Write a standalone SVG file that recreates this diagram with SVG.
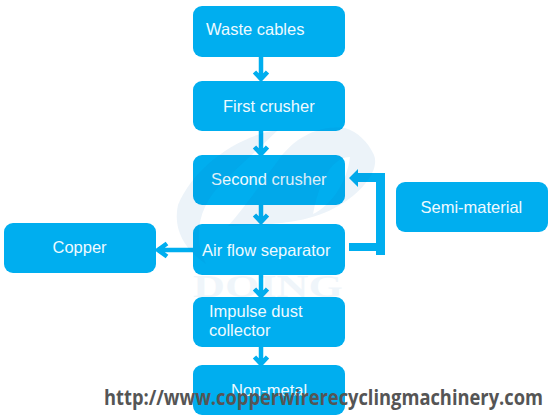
<svg xmlns="http://www.w3.org/2000/svg" width="551" height="419" viewBox="0 0 551 419">
<style>
.n{fill:#00aeef}
.t{font-family:"Liberation Sans",Arial,sans-serif;font-size:16.5px;fill:#eefaff}
.c{fill:none;stroke:#00aeef;stroke-width:4.5}
.wm{fill:#0a6cb0;opacity:.08;fill-rule:evenodd}
.w{font-family:"Liberation Serif",serif;font-weight:bold;font-size:32px;fill:#0a6cb0;opacity:.06}
</style>
<rect width="551" height="419" fill="#ffffff"/>
<g id="connectors">
<path class="c" d="M261 56V79M254.500 72L261 79L267.500 72"/>
<path class="c" d="M261 130V154M254.500 147L261 154L267.500 147"/>
<path class="c" d="M261 205V222M254.500 215L261 222L267.500 215"/>
<path class="c" d="M261 274V296M254.500 289L261 296L267.500 289"/>
<path class="c" d="M261 347V364M254.500 357L261 364L267.500 357"/>
<path class="c" d="M193 250H158M167 243.500L158 250L167 256.500"/>
<path d="M349 178L358 169V173H385V255H376V251H349V243H376V182H358V187Z" fill="#00aeef"/>
</g>
<g id="waste-cables"><rect class="n" x="193" y="6" width="152" height="51" rx="9"/><text class="t" x="206" y="35">Waste cables</text></g>
<g id="first-crusher"><rect class="n" x="193" y="81" width="152" height="50" rx="9"/><text class="t" x="223" y="112">First crusher</text></g>
<g id="second-crusher"><rect class="n" x="193" y="155" width="152" height="50" rx="9"/><text class="t" x="211" y="185">Second crusher</text></g>
<g id="air-flow-separator"><rect class="n" x="193" y="224" width="152" height="51" rx="9"/><text class="t" x="202" y="256">Air flow separator</text></g>
<g id="copper"><rect class="n" x="4" y="223" width="152" height="50" rx="9"/><text class="t" x="52.500" y="253">Copper</text></g>
<g id="semi-material"><rect class="n" x="396" y="182" width="152" height="50" rx="9"/><text class="t" x="420.500" y="213">Semi-material</text></g>
<g id="impulse-dust-collector"><rect class="n" x="193" y="297" width="152" height="50" rx="9"/><text class="t" x="209" y="317">Impulse dust</text><text class="t" x="209" y="336">collector</text></g>
<g id="non-metal"><rect class="n" x="193" y="365" width="152" height="50" rx="9"/><text class="t" x="231" y="396">Non-metal</text></g>
<g id="watermark">
<path class="wm" d="M278 130C240 135 195 165 178 205C172 232 188 252 206 264C192 238 198 205 225 180C240 165 260 148 278 130Z"/>
<path class="wm" d="M345 128C318 125 295 138 280 158C262 182 245 207 228 226C265 224 305 226 340 205C362 192 380 170 374 155C368 142 358 132 345 128ZM313 214C332 205 347 182 350 157C338 157 322 168 313 214Z"/>
<text class="w" x="193" y="297" textLength="150" lengthAdjust="spacingAndGlyphs">DOING</text>
</g>
<text transform="matrix(1 0 0 1.28 104 405)" font-family="'Open Sans',sans-serif" font-weight="700" font-size="17px" fill="#555555" textLength="439" lengthAdjust="spacingAndGlyphs">http://www.copperwirerecyclingmachinery.com</text>
</svg>
